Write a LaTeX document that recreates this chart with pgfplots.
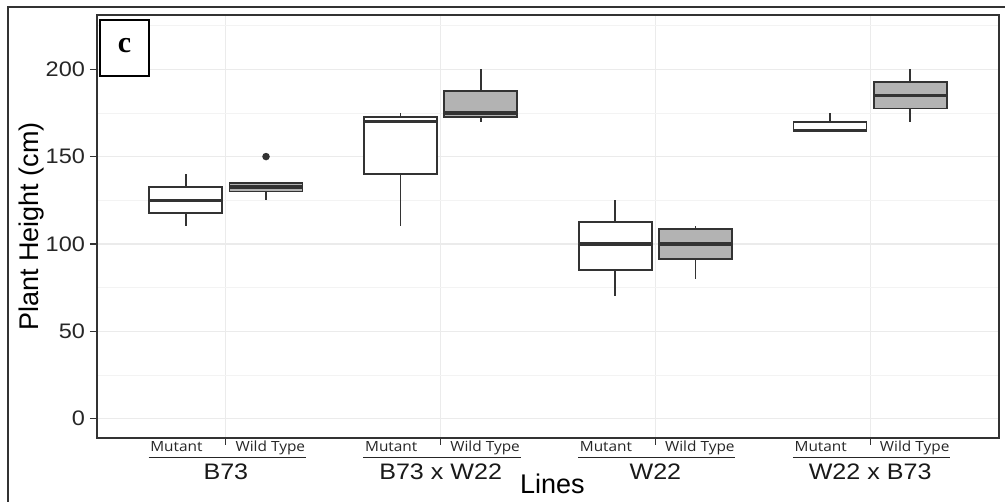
\documentclass[border=0pt]{standalone}
\usepackage{fontspec}
\setmainfont{Liberation Sans}[FakeStretch=1.12]
\newfontfamily\labfont{Liberation Sans}
\newfontfamily\catfont{Open Sans}[FakeStretch=1.1]
\newfontfamily\serifb{Liberation Serif}
\usepackage{pgfplots}
\pgfplotsset{compat=1.18}
\usepgfplotslibrary{statistics}

\definecolor{gborder}{HTML}{333333}
\definecolor{gfill}{HTML}{B3B3B3}
\definecolor{ggrid}{HTML}{EBEBEB}

\pgfplotsset{
  mbox/.style={solid, draw=gborder, fill=white, line width=0.9pt, mark=none,
    boxplot/box extend=0.34, boxplot/whisker extend=0,
    boxplot/every median/.style={line width=1.7pt}},
  wbox/.style={mbox, fill=gfill},
}
\tikzset{
  sub/.style={anchor=base, yshift=-7pt, font=\catfont\fontsize{7}{8}\selectfont, text=black!85},
  grp/.style={anchor=base, yshift=-20.9pt, font=\fontsize{11.2}{13}\selectfont, text=black!90},
  uline/.style={line width=0.6pt, black!85},
}

\begin{document}
\begin{tikzpicture}
\useasboundingbox (0,0) rectangle (502.5pt,251pt);
\begin{axis}[
  at={(48.5pt,32pt)}, anchor=south west,
  scale only axis, width=451pt, height=211.5pt,
  xmin=0.4, xmax=4.6, ymin=-11, ymax=231,
  xtick={1,2,3,4}, xticklabels={},
  ytick={0,50,100,150,200}, minor ytick={25,75,125,175,225},
  ymajorgrids, xmajorgrids, yminorgrids,
  major grid style={color=ggrid, line width=0.55pt},
  minor grid style={color=ggrid!60, line width=0.35pt},
  axis line style={gborder, line width=0.6pt},
  tick align=outside, tick pos=left,
  major tick length=3.5pt, minor tick length=0pt,
  tick style={gborder, line width=0.6pt},
  /pgf/number format/assume math mode=true,
  yticklabel style={font=\fontsize{10.5}{12}\selectfont, text=black!85, xshift=1pt},
  clip=false,
  boxplot/draw direction=y,
]
% B73
\addplot[mbox, boxplot prepared={draw position=0.813, lower whisker=110,
  lower quartile=117.5, median=125, upper quartile=132.5, upper whisker=140}] coordinates {};
\addplot[wbox, mark=*, mark size=1.4pt, mark options={solid, fill=gborder, draw=gborder},
  boxplot prepared={draw position=1.187, lower whisker=125,
  lower quartile=130, median=132.5, upper quartile=135, upper whisker=135}]
  coordinates {(1.187,150)};
% B73 x W22
\addplot[mbox, boxplot prepared={draw position=1.813, lower whisker=110,
  lower quartile=140, median=170, upper quartile=172.5, upper whisker=175}] coordinates {};
\addplot[wbox, boxplot prepared={draw position=2.187, lower whisker=170,
  lower quartile=172.5, median=175, upper quartile=187.5, upper whisker=200}] coordinates {};
% W22
\addplot[mbox, boxplot prepared={draw position=2.813, lower whisker=70,
  lower quartile=85, median=100, upper quartile=112.5, upper whisker=125}] coordinates {};
\addplot[wbox, boxplot prepared={draw position=3.187, lower whisker=80,
  lower quartile=91.25, median=100, upper quartile=108.75, upper whisker=110}] coordinates {};
% W22 x B73
\addplot[mbox, boxplot prepared={draw position=3.813, lower whisker=165,
  lower quartile=165, median=165, upper quartile=170, upper whisker=175}] coordinates {};
\addplot[wbox, boxplot prepared={draw position=4.187, lower whisker=170,
  lower quartile=177.5, median=185, upper quartile=192.5, upper whisker=200}] coordinates {};

% category labels
\node[sub] at (axis cs:0.77,-11) {Mutant};
\node[sub] at (axis cs:1.207,-11) {Wild Type};
\draw[uline] ([yshift=-9.8pt]axis cs:0.64,-11) -- ([yshift=-9.8pt]axis cs:1.372,-11);
\node[grp] at (axis cs:1,-11) {B73};

\node[sub] at (axis cs:1.77,-11) {Mutant};
\node[sub] at (axis cs:2.207,-11) {Wild Type};
\draw[uline] ([yshift=-9.8pt]axis cs:1.64,-11) -- ([yshift=-9.8pt]axis cs:2.372,-11);
\node[grp] at (axis cs:2,-11) {B73 x W22};

\node[sub] at (axis cs:2.77,-11) {Mutant};
\node[sub] at (axis cs:3.207,-11) {Wild Type};
\draw[uline] ([yshift=-9.8pt]axis cs:2.64,-11) -- ([yshift=-9.8pt]axis cs:3.372,-11);
\node[grp] at (axis cs:3,-11) {W22};

\node[sub] at (axis cs:3.77,-11) {Mutant};
\node[sub] at (axis cs:4.207,-11) {Wild Type};
\draw[uline] ([yshift=-9.8pt]axis cs:3.64,-11) -- ([yshift=-9.8pt]axis cs:4.372,-11);
\node[grp] at (axis cs:4,-11) {W22 x B73};

\node[anchor=base, yshift=-27.5pt, font=\labfont\fontsize{13.5}{16}\selectfont]
  at (axis cs:2.52,-11) {Lines};
\end{axis}

\node[rotate=90, anchor=base, font=\labfont\fontsize{13.5}{16}\selectfont]
  at (19.5pt,137.75pt) {Plant Height (cm)};

\draw[black, line width=0.6pt, fill=white] (50pt,241pt) rectangle (74.5pt,213pt);
\node[font=\serifb\bfseries\fontsize{15}{18}\selectfont] at (62.25pt,228pt) {c};

\draw[gborder, line width=0.9pt] (4pt,0) -- (4pt,247.5pt) -- (502.5pt,247.5pt);
\end{tikzpicture}
\end{document}
